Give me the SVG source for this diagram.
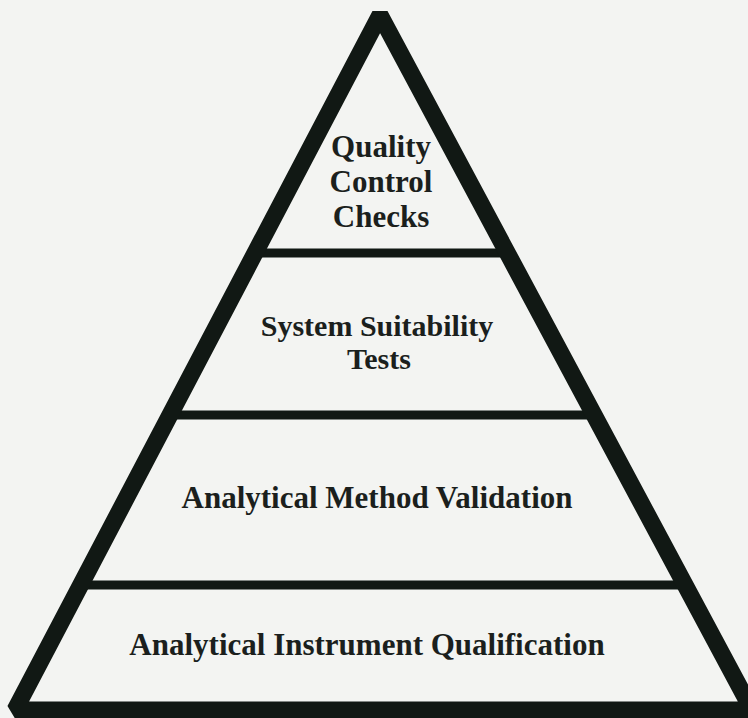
<svg xmlns="http://www.w3.org/2000/svg" width="748" height="718" viewBox="0 0 748 718">
  <style>
    .bg { fill: #f3f4f2; }
    .divider { stroke: #111814; stroke-width: 9; fill: none; }
    .frame { stroke: #111814; stroke-width: 17; fill: none; stroke-linejoin: bevel; }
    .label { font-family: "Liberation Serif", "Times New Roman", serif; font-weight: bold; font-size: 31px; fill: #1b1f1d; text-anchor: middle; }
    .label.tight { font-size: 30px; }
  </style>
  <rect class="bg" x="0" y="0" width="748" height="718"/>

  <!-- tier separators -->
  <g id="connectors">
    <line class="divider" x1="255" y1="253" x2="507" y2="253"/>
    <line class="divider" x1="170" y1="415" x2="594" y2="415"/>
    <line class="divider" x1="81" y1="585" x2="685" y2="585"/>
  </g>

  <!-- pyramid outline -->
  <g id="pyramid">
    <polygon class="frame" points="380,15 752,710 15,710"/>
  </g>

  <g id="tier-quality-control">
    <text class="label" x="381" y="157">Quality</text>
    <text class="label" x="381" y="192">Control</text>
    <text class="label" x="381" y="227">Checks</text>
  </g>

  <g id="tier-system-suitability">
    <text class="label tight" x="377" y="336">System Suitability</text>
    <text class="label tight" x="379" y="369">Tests</text>
  </g>

  <g id="tier-method-validation">
    <text class="label" x="377" y="508">Analytical Method Validation</text>
  </g>

  <g id="tier-instrument-qualification">
    <text class="label" x="367" y="655">Analytical Instrument Qualification</text>
  </g>
</svg>
